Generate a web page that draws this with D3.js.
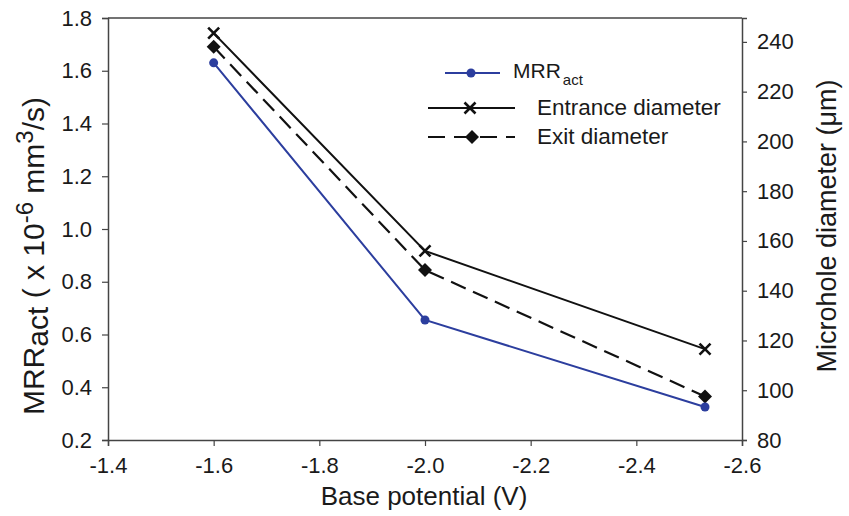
<!DOCTYPE html>
<html>
<head>
<meta charset="utf-8">
<script src="https://cdn.jsdelivr.net/npm/d3@7"></script>
<style>
  body { margin: 0; background: #fff; }
  svg text { font-family: "Liberation Sans", Arial, sans-serif; fill: #1a1a1a; }
</style>
</head>
<body>
<svg id="chart" width="849" height="516"></svg>
<script>
// data
var potential = [-1.6, -2.0, -2.53];
var mrrAct = [1.63, 0.655, 0.325];
var entranceDia = [243.5, 156, 116.5];
var exitDia = [238, 148.3, 97.5];
var xTicks = [-1.4, -1.6, -1.8, -2.0, -2.2, -2.4, -2.6];
var leftTicks = [0.2, 0.4, 0.6, 0.8, 1.0, 1.2, 1.4, 1.6, 1.8];
var rightTicks = [80, 100, 120, 140, 160, 180, 200, 220, 240];

var svg = d3.select('#chart');
var plotLeft = 108, plotRight = 742, plotTop = 18, plotBottom = 440;
var axisColor = '#444';

var x = d3.scaleLinear().domain([-1.4, -2.6]).range([plotLeft, plotRight]);
var yL = d3.scaleLinear().domain([0.2, 1.8]).range([plotBottom, plotTop]);
var yR = d3.scaleLinear().domain([80, 249.6]).range([plotBottom, plotTop]);
var fmt1 = function(d) { return d.toFixed(1); };

//axes
var xAxis = svg.append('g').attr('transform', 'translate(0,' + plotBottom + ')')
	.call(d3.axisBottom(x).tickValues(xTicks).tickFormat(fmt1).tickSize(6).tickPadding(11));
var lAxis = svg.append('g').attr('transform', 'translate(' + plotLeft + ',0)')
	.call(d3.axisLeft(yL).tickValues(leftTicks).tickFormat(fmt1).tickSize(6).tickPadding(10));
var rAxis = svg.append('g').attr('transform', 'translate(' + plotRight + ',0)')
	.call(d3.axisRight(yR).tickValues(rightTicks).tickSize(5).tickPadding(10));

[xAxis, lAxis, rAxis].forEach(function(a) {
	a.select('.domain').attr('stroke', axisColor).attr('stroke-width', 1.5);
	a.selectAll('.tick line').attr('stroke', axisColor).attr('stroke-width', 1.2);
	a.selectAll('.tick text').style('font-size', '22px').attr('fill', '#1a1a1a');
});

//top border
svg.append('line')
	.attr('x1', plotLeft).attr('x2', plotRight).attr('y1', plotTop).attr('y2', plotTop)
	.attr('stroke', axisColor).attr('stroke-width', 1.5);

//lines
var blue = '#2c3e9e';
var lineL = d3.line().x(function(d, i) { return x(potential[i]); }).y(function(d) { return yL(d); });
var lineR = d3.line().x(function(d, i) { return x(potential[i]); }).y(function(d) { return yR(d); });

svg.append('path').attr('d', lineR(entranceDia))
	.attr('fill', 'none').attr('stroke', '#111').attr('stroke-width', 2);
svg.append('path').attr('d', lineR(exitDia))
	.attr('fill', 'none').attr('stroke', '#111').attr('stroke-width', 2.2)
	.attr('stroke-dasharray', '16,8');
svg.append('path').attr('d', lineL(mrrAct))
	.attr('fill', 'none').attr('stroke', blue).attr('stroke-width', 2);

function cross(g, cx, cy) {
	var s = 5.5;
	g.append('path')
		.attr('d', 'M' + (cx - s) + ',' + (cy - s) + 'L' + (cx + s) + ',' + (cy + s) +
			'M' + (cx - s) + ',' + (cy + s) + 'L' + (cx + s) + ',' + (cy - s))
		.attr('stroke', '#111').attr('stroke-width', 2.6);
}
function diamond(g, cx, cy) {
	var s = 7;
	g.append('path')
		.attr('d', 'M' + cx + ',' + (cy - s) + 'L' + (cx + s) + ',' + cy + 'L' + cx + ',' + (cy + s) + 'L' + (cx - s) + ',' + cy + 'Z')
		.attr('fill', '#111');
}

var marks = svg.append('g');
entranceDia.forEach(function(d, i) { cross(marks, x(potential[i]), yR(d)); });
exitDia.forEach(function(d, i) { diamond(marks, x(potential[i]), yR(d)); });
marks.selectAll('circle').data(mrrAct).enter().append('circle')
	.attr('cx', function(d, i) { return x(potential[i]); })
	.attr('cy', function(d) { return yL(d); })
	.attr('r', 4.5).attr('fill', blue);

//legend
var lg = svg.append('g');
lg.append('line').attr('x1', 445).attr('x2', 500).attr('y1', 73).attr('y2', 73)
	.attr('stroke', blue).attr('stroke-width', 2);
lg.append('circle').attr('cx', 471).attr('cy', 73).attr('r', 4.5).attr('fill', blue);
var t1 = lg.append('text').attr('x', 513).attr('y', 78).style('font-size', '21px');
t1.append('tspan').text('MRR');
t1.append('tspan').attr('dx', 2).attr('dy', 7).style('font-size', '15px').text('act');

lg.append('line').attr('x1', 428).attr('x2', 515).attr('y1', 108).attr('y2', 108)
	.attr('stroke', '#111').attr('stroke-width', 2);
cross(lg, 470, 108);
lg.append('text').attr('x', 537).attr('y', 115).style('font-size', '22.5px').text('Entrance diameter');

lg.append('line').attr('x1', 428).attr('x2', 515).attr('y1', 137).attr('y2', 137)
	.attr('stroke', '#111').attr('stroke-width', 2.2).attr('stroke-dasharray', '17,9');
diamond(lg, 472, 137);
lg.append('text').attr('x', 537).attr('y', 144).style('font-size', '22.5px').text('Exit diameter');

//axis titles
svg.append('text').attr('x', 424).attr('y', 505)
	.attr('text-anchor', 'middle').style('font-size', '26px').text('Base potential (V)');

var lt = svg.append('text').attr('transform', 'translate(44,256) rotate(-90)')
	.attr('text-anchor', 'middle').style('font-size', '30px');
lt.append('tspan').text('MRR');
lt.append('tspan').attr('dy', 4).text('act');
lt.append('tspan').attr('dy', -4).text(' ( x 10');
lt.append('tspan').attr('dy', -11).style('font-size', '24px').text('-6');
lt.append('tspan').attr('dy', 11).text(' mm');
lt.append('tspan').attr('dy', -11).style('font-size', '24px').text('3');
lt.append('tspan').attr('dy', 11).text('/s)');

svg.append('text').attr('transform', 'translate(836,226) rotate(-90)')
	.attr('text-anchor', 'middle').style('font-size', '27px').text('Microhole diameter (\u03bcm)');
</script>
</body>
</html>
